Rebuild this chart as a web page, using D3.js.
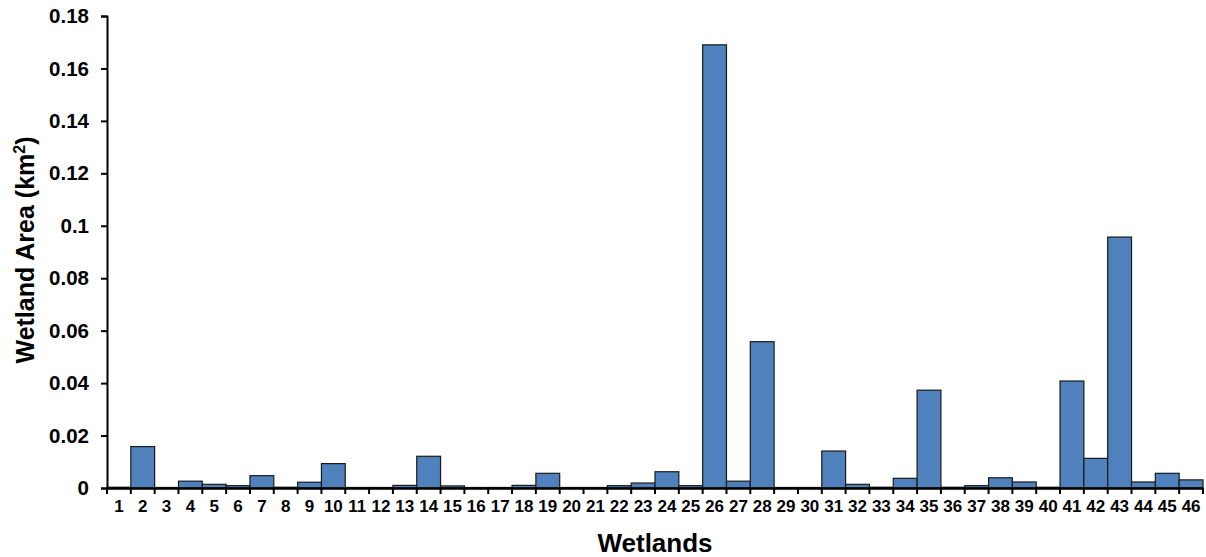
<!DOCTYPE html>
<html><head><meta charset="utf-8">
<script src="https://cdn.jsdelivr.net/npm/d3@7"></script>
<style>body{margin:0;background:#fff}svg{display:block}</style>
</head><body>
<svg id="c" width="1206" height="557"></svg>
<script>
const categories = d3.range(1, 47).map(String);
const areas = [0.0003,0.0158,0.0002,0.0026,0.0014,0.0009,0.0047,0.0003,0.0022,0.0093,
0.0002,0.0002,0.0010,0.0121,0.0008,0.0002,0.0002,0.0010,0.0056,0.0002,
0.0002,0.0009,0.0019,0.0062,0.0009,0.1690,0.0026,0.0558,0.0002,0.0002,
0.0141,0.0014,0.0003,0.0037,0.0373,0.0003,0.0009,0.0039,0.0023,0.0003,
0.0408,0.0113,0.0957,0.0023,0.0056,0.0031];
const yTicks = [0,0.02,0.04,0.06,0.08,0.1,0.12,0.14,0.16,0.18];

const svg = d3.select("#c");
const L = 107, R = 1203, T = 16, B = 488;
const x = d3.scaleBand().domain(categories).range([L, R]).padding(0);
const y = d3.scaleLinear().domain([0, 0.18]).range([B, T]);
const font = "'Liberation Sans', Arial, sans-serif";

svg.append("g").selectAll("rect").data(areas).join("rect")
  .attr("x", (d,i)=>x(categories[i]))
  .attr("y", d=>y(d))
  .attr("width", x.bandwidth())
  .attr("height", d=>B - y(d))
  .attr("fill", "#4F81BD")
  .attr("stroke", "#1a1a1a")
  .attr("stroke-width", 1.2);

// y axis
const ya = svg.append("g").attr("transform", `translate(${L},0)`)
  .call(d3.axisLeft(y).tickValues(yTicks).tickFormat(d=>d===0?"0":String(+d.toFixed(2))).tickSize(6).tickPadding(12));
ya.select(".domain").attr("stroke","#000").attr("stroke-width",2);
ya.selectAll(".tick line").attr("stroke","#000").attr("stroke-width",2);
ya.selectAll("text").attr("font-family", font).attr("font-weight","bold").attr("font-size",20.5).attr("fill","#000");

// x axis
const xa = svg.append("g").attr("transform", `translate(0,${B})`)
  .call(d3.axisBottom(x).tickSize(0).tickPadding(12));
xa.select(".domain").attr("stroke","#000").attr("stroke-width",2.5);
xa.selectAll("text").attr("font-family", font).attr("font-weight","bold").attr("font-size",17).attr("fill","#000");
const bounds = categories.map(c=>x(c)).concat([R]);
svg.append("g").selectAll("line").data(bounds).join("line")
  .attr("x1", d=>d).attr("x2", d=>d).attr("y1", B).attr("y2", B+6)
  .attr("stroke","#000").attr("stroke-width",2);

svg.append("text").attr("x", 655).attr("y", 552).attr("text-anchor","middle")
  .attr("font-family", font).attr("font-weight","bold").attr("font-size",26).text("Wetlands");

const yl = svg.append("text").attr("transform","translate(34,250) rotate(-90)").attr("text-anchor","middle")
  .attr("font-family", font).attr("font-weight","bold").attr("font-size",25);
yl.append("tspan").text("Wetland Area (km");
yl.append("tspan").attr("dy",-9).attr("font-size",16).text("2");
yl.append("tspan").attr("dy",9).text(")");
</script>
</body></html>
